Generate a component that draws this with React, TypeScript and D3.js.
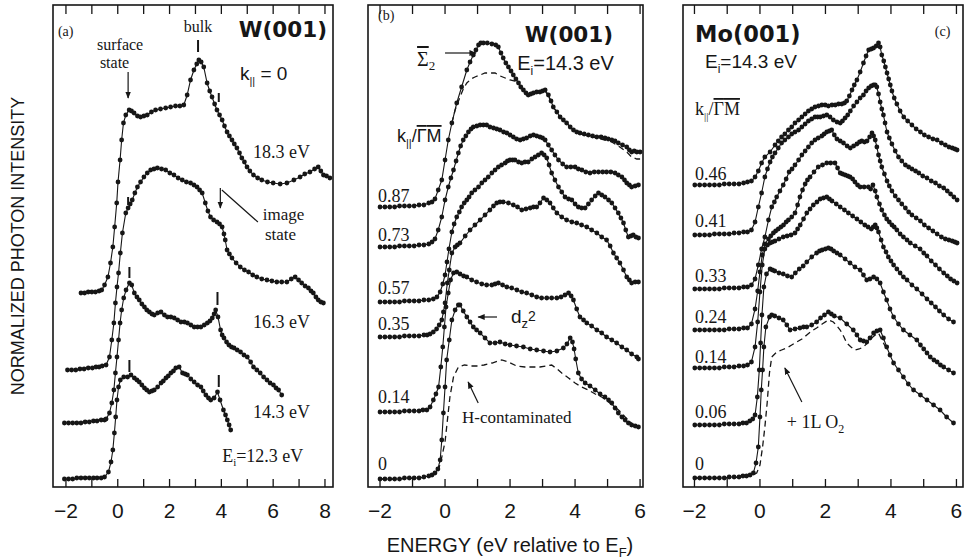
import React from 'react';
import * as d3 from 'd3';

type Pt = [number, number];

// energies (eV relative to E_F) vs. intensity (arb. units)

// (a) W(001), k|| = 0, four photon energies
const a183: Pt[] = [[-1.42,194],[-1.28,194],[-1.14,195],[-1.0,195],[-0.86,195],[-0.72,196],[-0.62,197],[-0.51,202],[-0.38,210],[-0.28,224],[-0.19,240],[-0.12,260],[-0.04,284],[0.01,305],[0.09,327],[0.15,347],[0.22,364],[0.31,372],[0.44,377],[0.53,376],[0.63,374],[0.76,371],[0.88,370],[1.01,371],[1.14,372],[1.3,375],[1.46,377],[1.65,378],[1.85,379],[2.04,380],[2.23,381],[2.4,381],[2.55,382],[2.68,392],[2.81,407],[2.94,417],[3.05,423],[3.13,427],[3.22,425],[3.32,420],[3.45,404],[3.55,396],[3.64,390],[3.74,383],[3.83,377],[3.93,372],[4.03,367],[4.12,361],[4.22,355],[4.31,351],[4.41,347],[4.5,343],[4.6,339],[4.7,334],[4.79,329],[4.89,325],[4.99,320],[5.1,316],[5.24,312],[5.4,309],[5.56,307],[5.78,305],[6.0,304],[6.27,303],[6.53,304],[6.8,307],[7.04,310],[7.22,313],[7.42,315],[7.6,318],[7.74,320],[7.84,316],[7.94,312],[8.06,311],[8.19,309]];
const a163: Pt[] = [[-1.94,117],[-1.78,117],[-1.62,117],[-1.46,118],[-1.3,118],[-1.14,119],[-0.98,119],[-0.84,120],[-0.72,120],[-0.6,121],[-0.45,122],[-0.32,130],[-0.23,147],[-0.15,164],[-0.09,184],[-0.03,200],[0.03,214],[0.1,234],[0.18,254],[0.31,274],[0.4,279],[0.48,283],[0.56,287],[0.66,294],[0.76,300],[0.88,305],[1.01,310],[1.14,314],[1.27,317],[1.4,318],[1.53,319],[1.69,318],[1.85,317],[2.01,314],[2.17,312],[2.33,309],[2.49,307],[2.65,305],[2.81,304],[2.94,302],[3.06,300],[3.16,297],[3.26,294],[3.38,284],[3.48,276],[3.58,270],[3.7,267],[3.83,265],[3.93,263],[4.03,260],[4.1,253],[4.15,247],[4.22,237],[4.31,233],[4.41,229],[4.57,224],[4.73,220],[4.89,217],[5.05,215],[5.21,212],[5.37,210],[5.56,208],[5.76,207],[5.95,206],[6.14,205],[6.33,205],[6.53,205],[6.7,208],[6.85,210],[6.98,207],[7.1,204],[7.23,201],[7.36,199],[7.46,196],[7.55,194],[7.65,190],[7.74,187],[7.84,185],[7.94,184]];
const a143: Pt[] = [[-2.06,64],[-1.9,64],[-1.74,64],[-1.58,64],[-1.42,64],[-1.26,65],[-1.1,65],[-0.94,66],[-0.8,66],[-0.64,67],[-0.51,67],[-0.45,68],[-0.32,74],[-0.23,84],[-0.15,97],[-0.09,114],[-0.03,130],[0.03,147],[0.09,164],[0.15,177],[0.23,189],[0.32,197],[0.45,204],[0.54,202],[0.64,194],[0.74,190],[0.83,187],[0.93,183],[1.03,180],[1.12,177],[1.22,175],[1.32,173],[1.41,172],[1.54,174],[1.67,175],[1.8,172],[1.92,170],[2.05,170],[2.18,169],[2.31,167],[2.44,165],[2.57,165],[2.69,164],[2.82,162],[2.95,160],[3.08,160],[3.21,160],[3.34,162],[3.46,164],[3.56,166],[3.65,169],[3.72,173],[3.78,177],[3.87,170],[3.97,157],[4.03,152],[4.1,149],[4.2,145],[4.29,142],[4.39,140],[4.49,139],[4.61,137],[4.74,135],[4.87,132],[5.0,130],[5.13,125],[5.24,120],[5.37,117],[5.5,114],[5.63,110],[5.76,107],[5.88,104],[6.01,102],[6.11,99],[6.21,97],[6.33,92]];
const a123: Pt[] = [[-2.06,8],[-1.9,8],[-1.74,8],[-1.58,9],[-1.42,9],[-1.26,9],[-1.1,9],[-0.94,9],[-0.8,9],[-0.64,9],[-0.51,10],[-0.36,15],[-0.26,25],[-0.19,37],[-0.13,54],[-0.08,70],[-0.03,87],[0.03,100],[0.1,107],[0.23,110],[0.38,110],[0.51,112],[0.64,109],[0.74,107],[0.83,105],[0.93,102],[1.03,99],[1.12,97],[1.22,95],[1.32,96],[1.41,97],[1.54,100],[1.67,104],[1.76,106],[1.86,109],[1.95,111],[2.05,114],[2.15,116],[2.24,119],[2.37,120],[2.5,114],[2.6,113],[2.69,112],[2.82,108],[2.95,105],[3.08,102],[3.21,100],[3.3,96],[3.4,92],[3.5,89],[3.59,87],[3.72,89],[3.85,95],[3.95,87],[4.08,77],[4.16,72],[4.23,67],[4.3,62],[4.36,57]];

// (b) W(001), Ei = 14.3 eV, k||/GM series
const b087: Pt[] = [[-2.0,280],[-1.85,280],[-1.7,280],[-1.55,280],[-1.4,281],[-1.25,281],[-1.1,281],[-0.95,281],[-0.8,282],[-0.65,282],[-0.5,284],[-0.4,285],[-0.31,288],[-0.21,297],[-0.1,307],[0,327],[0.1,347],[0.21,364],[0.36,384],[0.51,400],[0.67,417],[0.77,425],[0.87,432],[0.95,437],[1.03,442],[1.1,444],[1.18,444],[1.3,444],[1.44,443],[1.56,442],[1.64,440],[1.72,434],[1.79,429],[1.87,424],[1.95,420],[2.03,416],[2.1,412],[2.18,408],[2.26,404],[2.33,400],[2.41,397],[2.49,394],[2.56,392],[2.64,393],[2.72,394],[2.82,395],[2.92,395],[3.0,396],[3.08,397],[3.18,392],[3.26,386],[3.33,380],[3.44,375],[3.54,370],[3.64,367],[3.74,364],[3.85,360],[3.95,357],[4.05,355],[4.15,354],[4.28,353],[4.41,352],[4.54,351],[4.67,350],[4.8,350],[4.92,349],[5.02,348],[5.13,347],[5.23,346],[5.33,344],[5.46,342],[5.59,340],[5.67,337],[5.74,335],[5.82,336],[5.9,335],[6.0,335]];
const b087dash: Pt[] = [[0.21,364],[0.31,377],[0.46,390],[0.56,398],[0.67,404],[0.8,408],[0.92,410],[1.08,412],[1.23,414],[1.38,414],[1.54,414],[1.7,411],[1.85,409],[2.0,407],[2.15,406],[2.26,404],[2.41,397],[2.56,392],[2.72,394],[2.92,395],[3.08,396],[3.18,391],[3.33,380],[3.54,370],[3.74,364],[3.95,357],[4.15,353],[4.41,351],[4.67,349],[4.92,347],[5.13,345],[5.33,341],[5.59,335],[5.74,330],[5.9,328],[6.0,328]];
const b073: Pt[] = [[-2.0,240],[-1.85,240],[-1.7,240],[-1.55,240],[-1.4,241],[-1.25,241],[-1.1,241],[-0.95,241],[-0.8,242],[-0.65,242],[-0.5,243],[-0.4,245],[-0.31,248],[-0.21,257],[-0.1,270],[0,287],[0.1,300],[0.18,309],[0.26,317],[0.34,326],[0.41,334],[0.48,341],[0.56,347],[0.64,351],[0.72,355],[0.8,358],[0.87,360],[0.98,361],[1.08,362],[1.18,362],[1.28,362],[1.38,360],[1.49,359],[1.59,358],[1.69,357],[1.8,355],[1.9,354],[2.0,352],[2.1,350],[2.2,348],[2.31,347],[2.41,348],[2.51,349],[2.62,351],[2.72,352],[2.82,351],[2.92,350],[3.0,349],[3.08,347],[3.18,342],[3.28,337],[3.38,332],[3.49,327],[3.62,323],[3.74,320],[3.87,320],[4.0,320],[4.1,318],[4.21,317],[4.33,315],[4.46,314],[4.59,315],[4.72,315],[4.85,315],[4.97,315],[5.1,315],[5.23,314],[5.33,312],[5.44,310],[5.52,307],[5.59,304],[5.67,302],[5.74,300],[5.85,301],[5.95,302]];
const b057: Pt[] = [[-2.0,185],[-1.85,185],[-1.7,185],[-1.55,185],[-1.4,185],[-1.25,186],[-1.1,186],[-0.95,186],[-0.8,186],[-0.65,187],[-0.5,187],[-0.36,188],[-0.25,190],[-0.15,195],[-0.07,203],[0.0,212],[0.06,225],[0.12,238],[0.21,255],[0.28,263],[0.36,270],[0.44,275],[0.51,280],[0.59,284],[0.67,287],[0.74,290],[0.82,294],[0.92,297],[1.03,300],[1.13,304],[1.23,307],[1.33,310],[1.44,314],[1.54,317],[1.64,320],[1.74,322],[1.85,324],[1.92,326],[2.0,327],[2.08,327],[2.15,327],[2.26,325],[2.36,324],[2.46,325],[2.56,325],[2.67,328],[2.77,330],[2.87,332],[2.97,334],[3.05,332],[3.13,329],[3.2,322],[3.28,314],[3.38,307],[3.49,300],[3.59,295],[3.69,290],[3.8,288],[3.9,287],[4.0,283],[4.1,280],[4.2,279],[4.31,279],[4.41,283],[4.51,287],[4.62,291],[4.72,294],[4.82,292],[4.92,290],[5.03,287],[5.13,284],[5.23,279],[5.33,274],[5.41,269],[5.49,264],[5.56,257],[5.64,250],[5.72,251],[5.79,252],[5.87,250],[5.95,249]];
const b035: Pt[] = [[-2.0,150],[-1.85,150],[-1.7,150],[-1.55,150],[-1.4,150],[-1.25,151],[-1.1,151],[-0.95,151],[-0.8,151],[-0.65,152],[-0.55,152],[-0.46,153],[-0.36,155],[-0.26,158],[-0.18,162],[-0.1,167],[-0.05,175],[0.0,184],[0.07,204],[0.13,217],[0.21,234],[0.31,240],[0.38,242],[0.46,244],[0.62,251],[0.77,257],[0.92,262],[1.08,267],[1.23,272],[1.38,277],[1.49,281],[1.59,284],[1.69,285],[1.79,285],[1.95,284],[2.1,282],[2.23,280],[2.36,277],[2.49,278],[2.62,279],[2.72,280],[2.82,280],[2.92,284],[3.03,289],[3.13,287],[3.23,284],[3.33,279],[3.44,274],[3.59,270],[3.74,267],[3.9,265],[4.05,264],[4.2,262],[4.36,260],[4.51,257],[4.67,254],[4.82,250],[4.97,247],[5.08,241],[5.18,234],[5.28,229],[5.38,224],[5.49,217],[5.59,210],[5.67,207],[5.74,204],[5.85,205],[5.95,205]];
const b014: Pt[] = [[-2.0,75],[-1.85,75],[-1.7,75],[-1.55,75],[-1.4,75],[-1.25,76],[-1.1,76],[-0.95,76],[-0.8,76],[-0.68,77],[-0.56,77],[-0.46,80],[-0.36,87],[-0.28,93],[-0.2,100],[-0.13,120],[-0.07,140],[-0.02,160],[0.03,180],[0.1,194],[0.17,207],[0.26,214],[0.36,215],[0.46,213],[0.57,211],[0.67,210],[0.82,207],[0.97,205],[1.13,203],[1.28,202],[1.44,202],[1.54,203],[1.64,204],[1.77,202],[1.9,200],[2.05,199],[2.21,197],[2.36,195],[2.51,194],[2.67,192],[2.82,190],[2.97,189],[3.13,189],[3.28,189],[3.44,189],[3.57,190],[3.69,192],[3.8,194],[3.88,191],[3.95,187],[4.05,178],[4.15,170],[4.26,167],[4.36,164],[4.51,161],[4.67,157],[4.82,154],[4.97,150],[5.13,147],[5.28,144],[5.44,140],[5.59,137],[5.74,133],[5.9,130],[5.95,128]];
const b000: Pt[] = [[-2.0,8],[-1.85,8],[-1.7,8],[-1.55,8],[-1.4,8],[-1.25,9],[-1.1,9],[-0.95,9],[-0.8,9],[-0.65,10],[-0.5,11],[-0.4,12],[-0.31,14],[-0.22,18],[-0.15,27],[-0.1,47],[-0.05,74],[0.0,100],[0.05,127],[0.13,147],[0.21,167],[0.31,177],[0.41,182],[0.46,182],[0.56,176],[0.67,170],[0.77,165],[0.87,160],[0.97,157],[1.08,154],[1.23,149],[1.38,144],[1.54,144],[1.69,145],[1.85,143],[2.0,142],[2.2,141],[2.41,140],[2.62,138],[2.82,137],[3.03,136],[3.23,135],[3.44,136],[3.64,139],[3.75,143],[3.85,149],[3.92,145],[3.97,138],[4.02,128],[4.1,114],[4.2,108],[4.31,104],[4.46,101],[4.62,97],[4.77,93],[4.92,90],[5.03,87],[5.13,84],[5.23,79],[5.33,74],[5.44,70],[5.54,67],[5.64,64],[5.74,62],[5.85,61],[5.95,60]];
const bHcont: Pt[] = [[-2.0,8],[-1.4,8],[-0.8,9],[-0.4,11],[-0.2,17],[-0.1,30],[0.0,45],[0.05,60],[0.15,90],[0.26,110],[0.41,120],[0.6,122],[0.8,121],[1.0,121],[1.2,122],[1.45,124],[1.74,127],[1.95,125],[2.2,121],[2.46,120],[2.7,120],[2.92,120],[3.1,121],[3.28,122],[3.45,118],[3.59,114],[3.8,109],[4.0,104],[4.2,100],[4.41,97],[4.62,93],[4.82,90],[5.03,85],[5.23,80],[5.4,75],[5.54,70],[5.7,65],[5.85,60]];

// (c) Mo(001), Ei = 14.3 eV
const c046: Pt[] = [[-1.99,302],[-1.84,302],[-1.69,302],[-1.54,302],[-1.39,302],[-1.24,302],[-1.09,303],[-0.94,303],[-0.79,303],[-0.64,303],[-0.5,304],[-0.38,305],[-0.26,306],[-0.15,310],[-0.05,316],[0.05,324],[0.15,330],[0.31,335],[0.46,342],[0.56,346],[0.66,350],[0.76,353],[0.87,357],[0.97,360],[1.07,364],[1.18,367],[1.28,370],[1.38,373],[1.48,376],[1.58,378],[1.68,380],[1.79,381],[1.89,382],[1.99,382],[2.09,381],[2.2,382],[2.3,382],[2.4,383],[2.5,383],[2.58,384],[2.65,386],[2.73,391],[2.81,397],[2.88,402],[2.96,407],[3.06,415],[3.16,424],[3.24,431],[3.32,437],[3.4,438],[3.47,439],[3.55,441],[3.62,444],[3.67,440],[3.72,432],[3.78,426],[3.83,420],[3.88,414],[3.93,408],[3.98,402],[4.03,396],[4.1,389],[4.18,383],[4.28,376],[4.39,370],[4.51,366],[4.64,362],[4.77,358],[4.9,355],[5.02,352],[5.15,350],[5.28,348],[5.41,347],[5.54,344],[5.66,342],[5.77,340],[5.87,339],[5.95,338],[6.02,337]];
const c041: Pt[] = [[-1.99,252],[-1.84,252],[-1.69,252],[-1.54,252],[-1.39,253],[-1.24,253],[-1.09,253],[-0.94,253],[-0.79,254],[-0.64,254],[-0.5,255],[-0.38,255],[-0.26,257],[-0.15,265],[-0.05,280],[0.05,294],[0.15,310],[0.23,318],[0.31,325],[0.38,330],[0.46,334],[0.56,339],[0.66,344],[0.76,347],[0.87,350],[0.97,353],[1.07,355],[1.18,357],[1.28,360],[1.38,363],[1.48,366],[1.58,368],[1.68,370],[1.76,370],[1.84,370],[1.94,371],[2.04,372],[2.14,370],[2.24,367],[2.35,365],[2.45,364],[2.52,366],[2.6,369],[2.68,372],[2.76,376],[2.86,381],[2.96,385],[3.06,389],[3.16,392],[3.24,396],[3.32,399],[3.4,401],[3.47,402],[3.52,402],[3.57,400],[3.62,393],[3.67,385],[3.72,378],[3.77,372],[3.82,364],[3.88,355],[3.95,349],[4.03,343],[4.13,336],[4.23,330],[4.33,326],[4.44,322],[4.54,320],[4.64,318],[4.75,316],[4.85,314],[4.97,311],[5.1,309],[5.23,306],[5.36,304],[5.48,301],[5.61,299],[5.72,296],[5.82,293],[5.92,290],[6.02,287]];
const c033: Pt[] = [[-1.99,198],[-1.84,198],[-1.69,198],[-1.54,198],[-1.39,198],[-1.24,198],[-1.09,199],[-0.94,199],[-0.79,199],[-0.64,199],[-0.5,200],[-0.38,200],[-0.26,202],[-0.15,208],[-0.05,222],[0.05,238],[0.15,250],[0.26,267],[0.36,280],[0.44,285],[0.51,290],[0.61,296],[0.71,302],[0.8,308],[0.89,315],[0.98,318],[1.07,322],[1.18,327],[1.28,332],[1.38,336],[1.48,340],[1.58,344],[1.68,347],[1.78,349],[1.89,351],[1.96,353],[2.04,355],[2.12,356],[2.19,357],[2.27,352],[2.35,348],[2.45,346],[2.55,344],[2.66,341],[2.76,339],[2.86,341],[2.96,343],[3.04,345],[3.11,346],[3.19,345],[3.27,346],[3.35,350],[3.42,354],[3.47,351],[3.52,347],[3.57,340],[3.62,332],[3.67,326],[3.72,320],[3.8,313],[3.88,306],[3.95,301],[4.03,296],[4.13,291],[4.23,287],[4.33,283],[4.44,279],[4.54,275],[4.64,272],[4.77,269],[4.9,266],[5.02,262],[5.15,259],[5.28,256],[5.41,253],[5.54,250],[5.66,248],[5.77,247],[5.87,246],[5.95,245],[6.02,244]];
const c024: Pt[] = [[-1.99,157],[-1.84,157],[-1.69,157],[-1.54,157],[-1.39,157],[-1.24,157],[-1.09,157],[-0.94,158],[-0.79,158],[-0.64,158],[-0.5,159],[-0.38,159],[-0.26,163],[-0.15,178],[-0.07,196],[0.0,215],[0.07,232],[0.15,243],[0.26,248],[0.33,251],[0.41,254],[0.48,256],[0.56,258],[0.64,260],[0.72,262],[0.8,265],[0.87,267],[0.97,270],[1.07,274],[1.15,282],[1.22,290],[1.3,297],[1.38,303],[1.45,307],[1.53,310],[1.65,315],[1.78,320],[1.91,322],[2.04,324],[2.16,324],[2.29,324],[2.37,319],[2.45,314],[2.52,313],[2.6,312],[2.68,311],[2.75,310],[2.83,308],[2.9,305],[2.98,302],[3.06,300],[3.18,300],[3.31,300],[3.38,298],[3.45,302],[3.52,296],[3.57,290],[3.65,283],[3.72,277],[3.8,272],[3.87,268],[3.95,265],[4.03,262],[4.1,260],[4.18,257],[4.28,253],[4.38,250],[4.49,247],[4.59,244],[4.74,241],[4.89,238],[5.0,234],[5.1,231],[5.23,226],[5.36,222],[5.48,218],[5.61,214],[5.72,211],[5.82,208],[5.92,206],[6.02,204]];
const c014: Pt[] = [[-1.99,119],[-1.84,119],[-1.69,119],[-1.54,119],[-1.39,119],[-1.24,119],[-1.09,120],[-0.94,120],[-0.79,120],[-0.64,121],[-0.5,121],[-0.38,122],[-0.26,125],[-0.15,140],[-0.07,165],[0.0,195],[0.07,222],[0.15,238],[0.23,242],[0.31,244],[0.38,245],[0.46,246],[0.58,248],[0.71,250],[0.83,251],[0.95,252],[1.07,254],[1.15,258],[1.23,262],[1.33,268],[1.43,274],[1.53,278],[1.63,282],[1.74,285],[1.84,288],[1.94,289],[2.04,290],[2.12,288],[2.2,286],[2.33,283],[2.45,280],[2.58,277],[2.7,274],[2.83,271],[2.96,268],[3.08,265],[3.2,262],[3.3,260],[3.4,258],[3.46,260],[3.52,262],[3.57,259],[3.62,255],[3.7,247],[3.77,240],[3.85,235],[3.92,230],[4.0,226],[4.08,222],[4.18,218],[4.28,214],[4.38,210],[4.49,207],[4.64,202],[4.79,198],[4.95,193],[5.1,188],[5.23,184],[5.36,180],[5.48,176],[5.61,172],[5.76,168],[5.91,165]];
const c006: Pt[] = [[-1.99,62],[-1.84,62],[-1.69,62],[-1.54,62],[-1.39,62],[-1.24,62],[-1.09,63],[-0.94,63],[-0.79,63],[-0.64,63],[-0.52,64],[-0.41,64],[-0.31,66],[-0.22,68],[-0.15,72],[-0.08,90],[-0.02,117],[0.02,144],[0.06,172],[0.12,200],[0.2,213],[0.31,218],[0.38,217],[0.45,216],[0.58,214],[0.71,213],[0.84,211],[0.97,210],[1.08,214],[1.2,218],[1.32,221],[1.43,225],[1.58,230],[1.73,234],[1.82,236],[1.9,237],[2.0,238],[2.09,239],[2.17,238],[2.25,236],[2.35,234],[2.45,232],[2.6,228],[2.75,224],[2.9,220],[3.06,217],[3.16,212],[3.26,207],[3.36,208],[3.47,210],[3.57,208],[3.67,204],[3.77,195],[3.87,187],[3.97,178],[4.08,170],[4.23,163],[4.38,157],[4.58,152],[4.79,147],[4.9,142],[5.0,138],[5.1,134],[5.2,130],[5.31,127],[5.41,125],[5.51,122],[5.61,120],[5.76,117],[5.91,114]];
const c000: Pt[] = [[-1.99,9],[-1.84,9],[-1.69,9],[-1.54,9],[-1.39,9],[-1.24,9],[-1.09,9],[-0.94,10],[-0.79,10],[-0.64,10],[-0.52,11],[-0.41,11],[-0.3,12],[-0.2,14],[-0.12,24],[-0.05,40],[0.0,70],[0.04,97],[0.08,117],[0.12,140],[0.18,160],[0.29,170],[0.36,172],[0.45,171],[0.58,169],[0.71,167],[0.82,162],[0.92,157],[1.07,158],[1.22,159],[1.33,160],[1.43,160],[1.58,162],[1.73,165],[1.85,169],[1.97,172],[2.09,175],[2.18,173],[2.27,171],[2.45,169],[2.65,163],[2.85,157],[2.96,152],[3.06,147],[3.16,146],[3.26,145],[3.36,149],[3.47,154],[3.57,156],[3.67,157],[3.77,149],[3.87,140],[3.97,132],[4.08,124],[4.23,117],[4.38,110],[4.53,103],[4.69,97],[4.9,92],[5.1,87],[5.3,82],[5.5,77],[5.7,70],[5.91,64]];
const cO2: Pt[] = [[-1.99,9],[-1.0,9],[-0.5,10],[-0.3,11],[-0.1,14],[0.0,22],[0.08,40],[0.15,60],[0.22,84],[0.29,114],[0.36,130],[0.51,135],[0.66,137],[0.82,139],[0.97,142],[1.12,145],[1.28,148],[1.43,152],[1.58,156],[1.73,159],[1.9,163],[2.09,167],[2.24,165],[2.35,161],[2.45,157],[2.55,151],[2.65,144],[2.78,140],[2.9,137],[3.03,138],[3.16,140],[3.28,144],[3.41,149],[3.52,152],[3.62,154],[3.72,147],[3.82,141],[3.87,140]];

// curve labels: [label, energy, intensity]
const bLabels: [string, number, number][] = [['0.87', -2.06, 285], ['0.73', -2.06, 246], ['0.57', -2.06, 193], ['0.35', -2.06, 157], ['0.14', -2.06, 84], ['0', -2.06, 17]];
const cLabels: [string, number, number][] = [['0.46', -1.98, 307], ['0.41', -1.98, 260], ['0.33', -1.98, 205], ['0.24', -1.98, 164], ['0.14', -1.98, 124], ['0.06', -1.98, 69], ['0', -1.98, 17]];
const aLabels: [string, number, number][] = [['18.3 eV', 5.22, 329], ['16.3 eV', 5.22, 159], ['14.3 eV', 5.22, 69]];
// peak marks in (a): [energy, low, high]
const aMarks: [number, number, number][] = [[3.1, 435, 447], [3.9, 385, 394], [0.4, 282, 290], [0.45, 209, 220], [3.85, 182, 195], [0.45, 115, 127], [3.9, 100, 112]];

const ticksA = d3.range(-2, 9);
const ticksBC = d3.range(-2, 7);
const labelsA = [-2, 0, 2, 4, 6, 8];
const labelsBC = [-2, 0, 2, 4, 6];

const W = 964;
const H = 560;
const TOP = 5;
const BOTTOM = 487;
const INK = '#161616';
const SERIF = '"Liberation Serif", "Times New Roman", serif';
const SANS = '"Liberation Sans", Arial, sans-serif';
const BOLD = '"DejaVu Sans", sans-serif';

const y = d3.scaleLinear().domain([0, 482]).range([BOTTOM, TOP]);
const xa = d3.scaleLinear().domain([-2.5, 8.31]).range([53, 333]);
const xb = d3.scaleLinear().domain([-2.37, 6.09]).range([368, 643]);
const xc = d3.scaleLinear().domain([-2.35, 6.2]).range([683, 963]);

type Scale = d3.ScaleLinear<number, number>;

function Spectrum({ data, x, dashed = false }: { data: Pt[]; x: Scale; dashed?: boolean }) {
  const line = d3.line<Pt>().x(d => x(d[0])).y(d => y(d[1]));
  return (
    <g>
      <path d={line(data) || ''} fill="none" stroke={INK} strokeWidth={dashed ? 1.3 : 1.1}
        strokeDasharray={dashed ? '6 4' : undefined} />
      {!dashed && data.map((d, i) => (
        <circle key={i} cx={x(d[0])} cy={y(d[1])} r={2.4} fill={INK} />
      ))}
    </g>
  );
}

function Frame({ x, ticks, labels }: { x: Scale; ticks: number[]; labels: number[] }) {
  const [x0, x1] = x.range();
  return (
    <g>
      <rect x={x0} y={TOP} width={x1 - x0} height={BOTTOM - TOP} fill="none" stroke={INK} strokeWidth={1.6} />
      {ticks.map(t => (
        <g key={t} stroke={INK} strokeWidth={1.3}>
          <line x1={x(t)} x2={x(t)} y1={TOP} y2={TOP + 9} />
          <line x1={x(t)} x2={x(t)} y1={BOTTOM} y2={BOTTOM - 8} />
        </g>
      ))}
      {labels.map(t => (
        <text key={t} x={x(t)} y={518} textAnchor="middle" fontFamily={SANS} fontSize={21} fill={INK}>
          {t < 0 ? '\u2212' + -t : String(t)}
        </text>
      ))}
    </g>
  );
}

function Arrow({ x, e1, i1, e2, i2 }: { x: Scale; e1: number; i1: number; e2: number; i2: number }) {
  return <line x1={x(e1)} y1={y(i1)} x2={x(e2)} y2={y(i2)} stroke={INK} strokeWidth={1.2} markerEnd="url(#ah)" />;
}

export default function App() {
  return (
    <svg width={W} height={H} style={{ position: 'absolute', left: 0, top: 0, background: '#fff' }}>
      <defs>
        <marker id="ah" viewBox="0 0 10 10" refX="9" refY="5" markerWidth="6" markerHeight="6" orient="auto">
          <path d="M0,1 L10,5 L0,9 z" fill={INK} />
        </marker>
      </defs>
      <rect width={W} height={H} fill="#fff" />

      {/* axis titles */}
      <text transform="translate(24,246) rotate(-90)" textAnchor="middle" fontFamily={SANS} fontSize={18} fill={INK}>
        NORMALIZED PHOTON INTENSITY
      </text>
      <text x={510} y={552} textAnchor="middle" fontFamily={SANS} fontSize={20} fill={INK}>
        ENERGY (eV relative to E<tspan fontSize={13} dy={5}>F</tspan><tspan dy={-5}>)</tspan>
      </text>

      {/* panel (a) */}
      <Frame x={xa} ticks={ticksA} labels={labelsA} />
      {[a183, a163, a143, a123].map((d, i) => <Spectrum key={i} data={d} x={xa} />)}
      {aMarks.map((m, i) => (
        <line key={i} x1={xa(m[0])} x2={xa(m[0])} y1={y(m[1])} y2={y(m[2])} stroke={INK} strokeWidth={2} />
      ))}
      <text x={xa(-2.31)} y={y(451)} fontFamily={SERIF} fontSize={14} fill={INK}>(a)</text>
      <text x={xa(8.08)} y={y(450)} textAnchor="end" fontFamily={BOLD} fontWeight="bold" fontSize={21.5} fill={INK}>W(001)</text>
      <text x={xa(4.72)} y={y(407)} fontFamily={SANS} fontSize={19} fill={INK}>
        k<tspan fontSize={11} dy={5}>||</tspan><tspan dy={-5}> = 0</tspan>
      </text>
      <text x={xa(3.1)} y={y(455)} textAnchor="middle" fontFamily={SERIF} fontSize={16} fill={INK}>bulk</text>
      <text x={xa(-0.8)} y={y(437)} fontFamily={SERIF} fontSize={16} fill={INK}>surface</text>
      <text x={xa(-0.69)} y={y(419)} fontFamily={SERIF} fontSize={16} fill={INK}>state</text>
      <Arrow x={xa} e1={0.4} i1={415} e2={0.4} i2={389} />
      <Arrow x={xa} e1={3.96} i1={299} e2={3.96} i2={279} />
      <line x1={xa(4.02)} y1={y(297)} x2={xa(5.41)} y2={y(265)} stroke={INK} strokeWidth={1.2} />
      <text x={xa(5.6)} y={y(267)} fontFamily={SERIF} fontSize={17} fill={INK}>image</text>
      <text x={xa(5.68)} y={y(247)} fontFamily={SERIF} fontSize={17} fill={INK}>state</text>
      {aLabels.map(([t, e, v]) => (
        <text key={t} x={xa(e)} y={y(v)} fontFamily={SERIF} fontSize={18} fill={INK}>{t}</text>
      ))}
      <text x={xa(4.03)} y={y(25)} fontFamily={SERIF} fontSize={18} fill={INK}>
        E<tspan fontSize={11} dy={4}>i</tspan><tspan dy={-4}>=12.3 eV</tspan>
      </text>

      {/* panel (b) */}
      <Frame x={xb} ticks={ticksBC} labels={labelsBC} />
      <Spectrum data={b087dash} x={xb} dashed />
      <Spectrum data={bHcont} x={xb} dashed />
      {[b087, b073, b057, b035, b014, b000].map((d, i) => <Spectrum key={i} data={d} x={xb} />)}
      <text x={xb(-2.06)} y={y(467)} fontFamily={SERIF} fontSize={14} fill={INK}>(b)</text>
      <text x={xb(5.17)} y={y(445)} textAnchor="end" fontFamily={BOLD} fontWeight="bold" fontSize={21.5} fill={INK}>W(001)</text>
      <text x={xb(2.22)} y={y(417)} fontFamily={SANS} fontSize={20} fill={INK}>
        E<tspan fontSize={12} dy={5}>i</tspan><tspan dy={-5}>=14.3 eV</tspan>
      </text>
      <text x={xb(-0.86)} y={y(421)} fontFamily={SERIF} fontSize={20} fill={INK}>
        <tspan style={{ textDecoration: 'overline' }}>Σ</tspan><tspan fontSize={13} dy={4}>2</tspan>
      </text>
      <Arrow x={xb} e1={0.0} i1={434} e2={0.95} i2={434} />
      <text x={xb(-1.48)} y={y(345)} fontFamily={SANS} fontSize={18} fill={INK}>
        k<tspan fontSize={11} dy={5}>||</tspan><tspan dy={-5}>/</tspan>
        <tspan style={{ textDecoration: 'overline' }}>Γ</tspan>
        <tspan style={{ textDecoration: 'overline' }}>M</tspan>
      </text>
      {bLabels.map(([t, e, v]) => (
        <text key={t} x={xb(e)} y={y(v)} fontFamily={SERIF} fontSize={18} fill={INK}>{t}</text>
      ))}
      <Arrow x={xb} e1={1.6} i1={170} e2={1.02} i2={170} />
      <text x={xb(2.03)} y={y(164)} fontFamily={SANS} fontSize={19} fill={INK}>
        d<tspan fontSize={13} dy={5}>z</tspan><tspan fontSize={14} dy={-7}>2</tspan>
      </text>
      <Arrow x={xb} e1={1.02} i1={84} e2={0.71} i2={105} />
      <text x={xb(0.52)} y={y(64)} fontFamily={SERIF} fontSize={17} fill={INK}>H-contaminated</text>

      {/* panel (c) */}
      <Frame x={xc} ticks={ticksBC} labels={labelsBC} />
      <Spectrum data={cO2} x={xc} dashed />
      {[c046, c041, c033, c024, c014, c006, c000].map((d, i) => <Spectrum key={i} data={d} x={xc} />)}
      <text x={xc(-1.98)} y={y(445)} fontFamily={BOLD} fontWeight="bold" fontSize={22.5} fill={INK}>Mo(001)</text>
      <text x={xc(5.34)} y={y(451)} fontFamily={SERIF} fontSize={14} fill={INK}>(c)</text>
      <text x={xc(-1.68)} y={y(419)} fontFamily={SANS} fontSize={19} fill={INK}>
        E<tspan fontSize={12} dy={5}>i</tspan><tspan dy={-5}>=14.3 eV</tspan>
      </text>
      <text x={xc(-1.98)} y={y(372)} fontFamily={SERIF} fontSize={18} fill={INK}>
        k<tspan fontSize={11} dy={5}>||</tspan><tspan dy={-5}>/</tspan>
        <tspan style={{ textDecoration: 'overline' }}>Γ</tspan>
        <tspan style={{ textDecoration: 'overline' }}>M</tspan>
      </text>
      {cLabels.map(([t, e, v]) => (
        <text key={t} x={xc(e)} y={y(v)} fontFamily={SERIF} fontSize={18} fill={INK}>{t}</text>
      ))}
      <Arrow x={xc} e1={1.28} i1={85} e2={0.76} i2={119} />
      <text x={xc(0.82)} y={y(59)} fontFamily={SERIF} fontSize={18} fill={INK}>
        + 1L O<tspan fontSize={12} dy={5}>2</tspan>
      </text>
    </svg>
  );
}
